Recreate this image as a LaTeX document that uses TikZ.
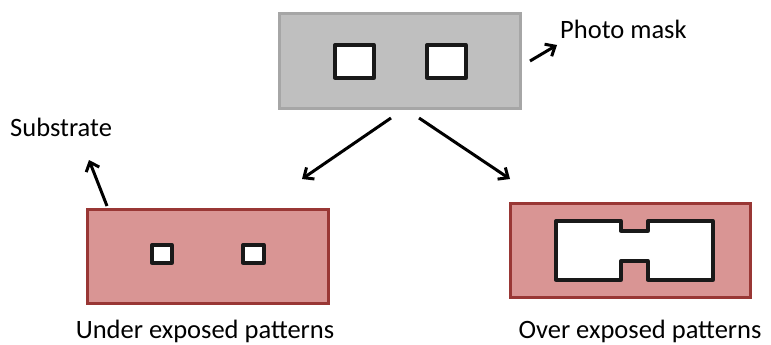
\documentclass[tikz,border=0pt]{standalone}
\usepackage{fontspec}
\setmainfont{Carlito}
\usetikzlibrary{arrows.meta}
\definecolor{maskfill}{HTML}{BFBFBF}
\definecolor{maskline}{HTML}{A6A6A6}
\definecolor{subfill}{HTML}{D99594}
\definecolor{subline}{HTML}{993735}
\begin{document}
\begin{tikzpicture}[x=1pt,y=-1pt,
  mask/.style={draw=maskline,fill=maskfill,line width=3pt},
  substrate/.style={draw=subline,fill=subfill,line width=3pt},
  hole/.style={draw=black!90,fill=white,line width=3.3pt,line join=round},
  conn/.style={line width=3pt,-{Straight Barb[length=8pt,width=14pt,line width=3pt]}},
  lbl/.style={font=\fontsize{26.5}{30}\selectfont,inner sep=0pt}]
\useasboundingbox (0,0) rectangle (771,345);
% photo mask
\node[mask,minimum width=241pt,minimum height=94pt,inner sep=0pt] (mask) at (399.5,61) {};
\draw[hole] (335,45) rectangle (374,78);
\draw[hole] (427,45) rectangle (466,78);
% left substrate
\node[substrate,minimum width=241pt,minimum height=94pt,inner sep=0pt] (lsub) at (207.5,256) {};
\draw[hole] (152,245) rectangle (172,263);
\draw[hole] (243,245) rectangle (264,263);
% right substrate
\node[substrate,minimum width=240pt,minimum height=94pt,inner sep=0pt] (rsub) at (630,250) {};
\draw[hole] (556,221) -- (621,221) -- (621,231) -- (648,231) -- (648,221) -- (713,221)
  -- (713,280) -- (648,280) -- (648,261) -- (621,261) -- (621,280) -- (556,280) -- cycle;
% labels
\node[lbl,anchor=west] (pm) at (560,29) {Photo mask};
\node[lbl,anchor=west] (st) at (10,127) {Substrate};
\node[lbl] (ul) at (205,331) {Under exposed patterns};
\node[lbl] (ol) at (640,331) {Over exposed patterns};
% arrows
\coordinate (a1s) at (391,118); \coordinate (a1e) at (302,179);
\coordinate (a2s) at (419,118); \coordinate (a2e) at (510,179);
\coordinate (a3s) at (530,61); \coordinate (a3e) at (557,45);
\coordinate (a4s) at (107,206); \coordinate (a4e) at (89,160);
\draw[conn] (a1s) -- (a1e);
\draw[conn] (a2s) -- (a2e);
\draw[conn] (a3s) -- (a3e);
\draw[conn] (a4s) -- (a4e);
\end{tikzpicture}
\end{document}
